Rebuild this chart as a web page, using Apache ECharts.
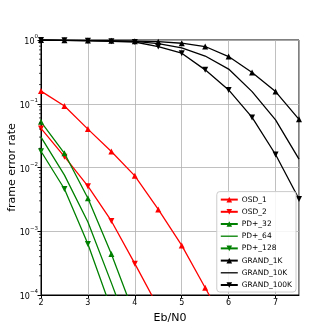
<!DOCTYPE html>
<html>
<head>
<meta charset="utf-8">
<script src="https://cdn.jsdelivr.net/npm/echarts@6/dist/echarts.min.js"></script>
<style>html,body{margin:0;padding:0;background:#fff;}#c{width:332px;height:332px;}</style>
</head>
<body>
<div id="c"></div>
<script>
var ebn0 = [2, 2.5, 3, 3.5, 4, 4.5, 5, 5.5, 6, 6.5, 7, 7.5];
var osd1 = [0.158, 0.092, 0.040, 0.0178, 0.0074, 0.0022, 0.0006, 0.00013, 0.000028];
var osd2 = [0.041, 0.0148, 0.0051, 0.00145, 0.00031, 0.000064];
var pd32 = [0.052, 0.0167, 0.0033, 0.00044, 0.000047];
var pd64 = [0.030, 0.0076, 0.0014, 0.000155, 0.000016];
var pd128 = [0.018, 0.0046, 0.00063, 0.000059];
var grand1k = [1.0, 0.99, 0.98, 0.97, 0.96, 0.94, 0.89, 0.79, 0.55, 0.31, 0.155, 0.057];
var grand10k = [1.0, 0.99, 0.98, 0.97, 0.95, 0.88, 0.75, 0.56, 0.35, 0.155, 0.056, 0.0135];
var grand100k = [1.0, 0.99, 0.975, 0.955, 0.93, 0.79, 0.62, 0.34, 0.165, 0.061, 0.016, 0.0032];
var xTicks = [2, 3, 4, 5, 6, 7];
var yDecades = [-4, -3, -2, -1, 0];
var minorMult = [2, 3, 4, 5, 6, 7, 8, 9];
var minorDecades = [1e-4, 1e-3, 1e-2, 1e-1];
var legendNames = ['OSD_1', 'OSD_2', 'PD+_32', 'PD+_64', 'PD+_128', 'GRAND_1K', 'GRAND_10K', 'GRAND_100K'];
var lineOnly = ['PD+_64', 'GRAND_10K'];

function pairs(ys) { return ys.map(function (v, i) { return [ebn0[i], v]; }); }
var minorTicks = [];
minorDecades.forEach(function (d) { minorMult.forEach(function (m) { minorTicks.push([2, m * d]); }); });

var FONT = 'DejaVu Sans';
function mk(name, data, color, symbol, rot) {
  return {
    name: name, type: 'line', data: pairs(data),
    symbol: symbol || 'none', symbolSize: 6, symbolRotate: rot || 0,
    showSymbol: !!symbol,
    lineStyle: { color: color, width: 1.3 },
    itemStyle: { color: color },
    clip: true, animation: false, z: 3
  };
}
var chart = echarts.init(document.getElementById('c'), null, { renderer: 'canvas' });
chart.setOption({
  animation: false,
  textStyle: { fontFamily: FONT },
  grid: { left: 41, right: 33, top: 40, bottom: 37, show: true, borderColor: '#000', borderWidth: 1,
    backgroundColor: '#fff', containLabel: false, outerBoundsMode: 'none' },
  legend: {
    orient: 'vertical', right: 36, bottom: 40,
    itemWidth: 17, itemHeight: 7, itemGap: 4.2,
    padding: [4, 4, 3, 3],
    backgroundColor: 'rgba(255,255,255,0.85)', borderColor: '#ccc', borderWidth: 1, borderRadius: 3,
    textStyle: { fontSize: 7.5, color: '#000', fontFamily: FONT, padding: [0, 0, 0, -1] },
    data: legendNames.map(function (n) {
      return lineOnly.indexOf(n) >= 0 ? { name: n, icon: 'path://M0,0H17V1.3H0Z', symbolKeepAspect: true } : n;
    })
  },
  xAxis: {
    type: 'value', min: 2, max: 7.5, interval: 1,
    name: 'Eb/N0', nameLocation: 'middle', nameGap: 18, nameMoveOverlap: false,
    nameTextStyle: { fontSize: 11, color: '#000', fontFamily: FONT },
    axisLine: { show: true, onZero: false, lineStyle: { color: '#000', width: 1 } },
    axisTick: { show: true, length: 3, lineStyle: { color: '#000' } },
    axisLabel: { fontSize: 8, color: '#000', margin: 4, fontFamily: FONT, showMaxLabel: false,
      formatter: function (v) { return xTicks.indexOf(v) >= 0 ? String(v) : ''; } },
    splitLine: { show: true, lineStyle: { color: '#b0b0b0', width: 0.8 } }
  },
  yAxis: {
    type: 'log', logBase: 10, min: 1e-4, max: 1,
    name: 'frame error rate', nameLocation: 'middle', nameGap: 23, nameMoveOverlap: false,
    nameTextStyle: { fontSize: 11, color: '#000', fontFamily: FONT },
    axisLine: { show: true, lineStyle: { color: '#000', width: 1 } },
    axisTick: { show: true, length: 3.5, lineStyle: { color: '#000' } },
    axisLabel: {
      margin: 3, color: '#000',
      formatter: function (v) {
        var e = Math.round(Math.log10(v));
        if (yDecades.indexOf(e) < 0) return '';
        return '{b|10}{s|' + (e === 0 ? '0' : '\u2212' + (-e)) + '}';
      },
      rich: {
        b: { fontSize: 8, color: '#000', fontFamily: FONT, verticalAlign: 'bottom', lineHeight: 12 },
        s: { fontSize: 5.5, color: '#000', fontFamily: FONT, verticalAlign: 'top', lineHeight: 12, padding: [0, 0, 5, 0] }
      }
    },
    splitLine: { show: true, lineStyle: { color: '#b0b0b0', width: 0.8 } }
  },
  series: [
    mk('OSD_1', osd1, '#ff0000', 'triangle', 0),
    mk('OSD_2', osd2, '#ff0000', 'triangle', 180),
    mk('PD+_32', pd32, '#008000', 'triangle', 0),
    mk('PD+_64', pd64, '#008000', null, 0),
    mk('PD+_128', pd128, '#008000', 'triangle', 180),
    mk('GRAND_1K', grand1k, '#000000', 'triangle', 0),
    mk('GRAND_10K', grand10k, '#000000', null, 0),
    mk('GRAND_100K', grand100k, '#000000', 'triangle', 180),
    {
      type: 'custom', data: minorTicks, silent: true, clip: false, z: 5,
      renderItem: function (params, api) {
        var p = api.coord([api.value(0), api.value(1)]);
        return { type: 'line', shape: { x1: p[0] - 2, y1: p[1], x2: p[0], y2: p[1] }, style: { stroke: '#000', lineWidth: 0.7 } };
      }
    }
  ]
});
</script>
</body>
</html>
